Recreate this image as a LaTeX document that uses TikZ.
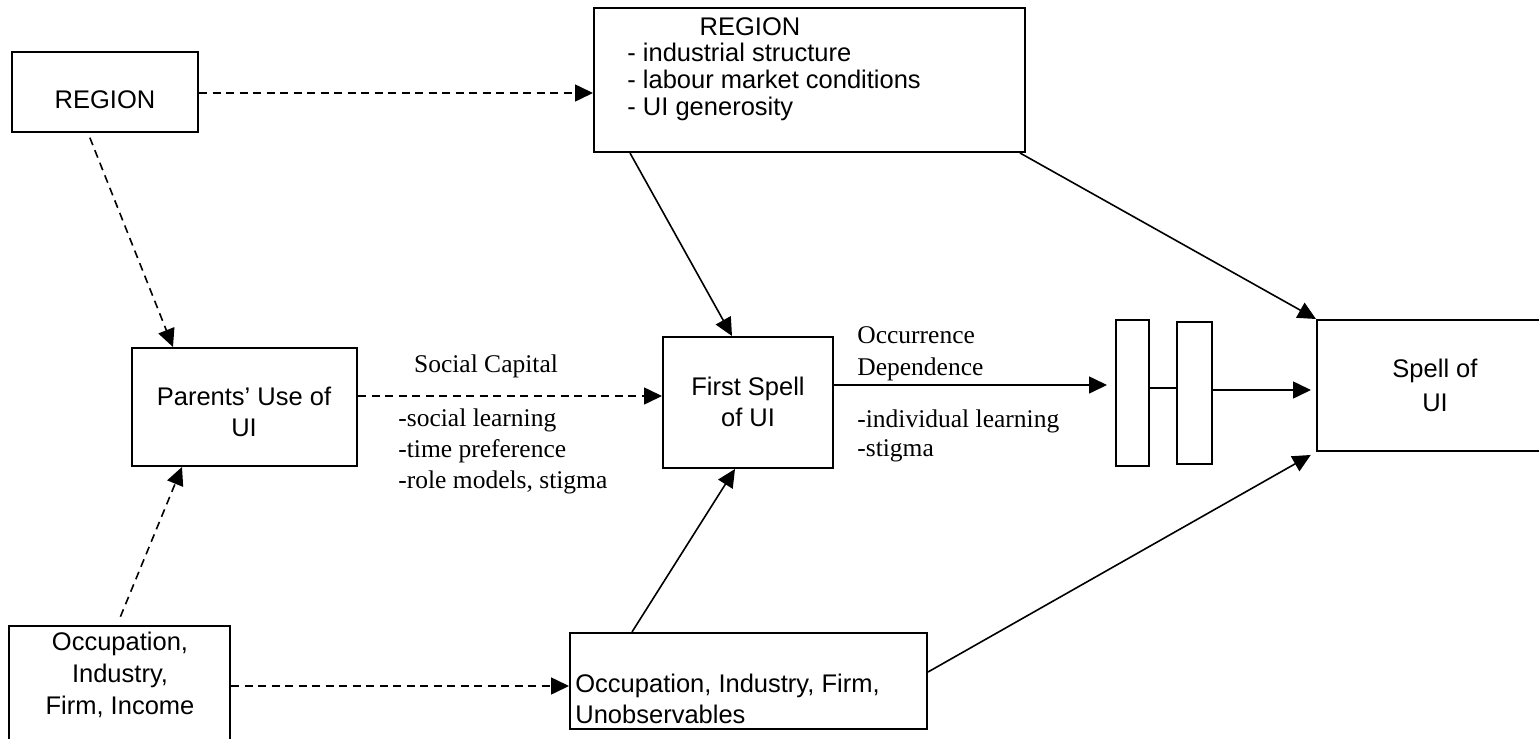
\documentclass[tikz,border=0pt]{standalone}
\usepackage{fontspec}
\setmainfont{Liberation Serif}
\setsansfont{Liberation Sans}
\usetikzlibrary{arrows.meta,fit}
\begin{document}
\begin{tikzpicture}[x=0.5pt,y=-0.5pt,
  box/.style={draw,line width=1pt,inner sep=0pt},
  sanstxt/.style={font=\sffamily\fontsize{12.75}{15.5}\selectfont,align=center,inner sep=0pt},
  sertxt/.style={font=\fontsize{12.75}{15.5}\selectfont,align=left,inner sep=0pt,anchor=west},
  arr/.style={line width=0.8pt,-{Triangle[length=9pt,width=8.5pt]}},
  dsh/.style={arr,dash pattern=on 4pt off 2.75pt},
  ln/.style={line width=0.8pt}]
\fill[white] (0,0) rectangle (1539,739);
\useasboundingbox (0,0) rectangle (1539,739);
% boxes
\node[box,fit={(12,52) (198,132)}] (regl) {};
\node[box,fit={(594,8) (1025,152)}] (regt) {};
\node[box,fit={(132,348) (357,466)}] (par) {};
\node[box,fit={(663,337) (833,468)}] (first) {};
\node[box,fit={(1116,320) (1149,466)}] (r1) {};
\node[box,fit={(1177,322) (1212,464)}] (r2) {};
\node[box,fit={(1317,320) (1560,451)}] (spell) {};
\node[box,fit={(9,626) (230,760)}] (occl) {};
\node[box,fit={(570,633) (927,729)}] (occr) {};
% box texts
\node[sanstxt] (tregl) at (105,100) {REGION};
\node[sanstxt] (tregt) at (750,27) {REGION};
\node[sanstxt,align=left,anchor=west,font=\sffamily\fontsize{12.75}{13.5}\selectfont] (tregtl) at (627,82) {- industrial structure\\- labour market conditions\\- UI generosity};
\node[sanstxt] (tpar) at (244,412) {Parents' Use of\\UI};
\node[sanstxt] (tfirst) at (748,402) {First Spell\\of UI};
\node[sanstxt,font=\sffamily\fontsize{12.75}{17}\selectfont] (tspell) at (1435,385) {Spell of\\UI};
\node[sanstxt,font=\sffamily\fontsize{12.75}{16}\selectfont] (toccl) at (120,675) {Occupation,\\Industry,\\Firm, Income};
\node[sanstxt,align=left,anchor=west] (toccr) at (575,699) {Occupation, Industry, Firm,\\Unobservables};
% labels
\node[sertxt,anchor=center] (lsc) at (486,366) {Social Capital};
\node[sertxt] (lsl) at (398,451) {-social learning\\-time preference\\-role models, stigma};
\node[sertxt,font=\fontsize{12.75}{16}\selectfont] (lod) at (857,354) {Occurrence\\Dependence};
\node[sertxt,font=\fontsize{12.75}{14.5}\selectfont] (lil) at (857,436) {-individual learning\\-stigma};
% connectors
\draw[dsh] (regl.east |- 0,93) -- (regt.west |- 0,93);
\draw[dsh,shorten <=2.5pt] (regl.south -| 88,0) -- (par.north -| 173,0);
\draw[dsh,shorten <=4.5pt] (occl.north -| 117,0) -- (par.south -| 182,0);
\draw[dsh] (occl.east |- 0,686) -- (occr.west |- 0,686);
\draw[dsh] (par.east |- 0,396) -- (first.west |- 0,396);
\draw[arr] (regt.south -| 630,0) -- (first.north -| 732,0);
\draw[arr] (regt.south -| 1020,0) -- (spell.north west);
\draw[arr] (occr.north -| 632,0) -- (first.south -| 735,0);
\draw[arr,shorten >=3pt] (occr.east |- 0,672) -- (spell.south west);
\draw[arr,shorten >=4pt] (first.east |- 0,385) -- (r1.west |- 0,385);
\draw[ln] (r1.east |- 0,388) -- (r2.west |- 0,388);
\draw[arr,shorten >=2.5pt] (r2.east |- 0,390) -- (spell.west |- 0,390);
\end{tikzpicture}
\end{document}
